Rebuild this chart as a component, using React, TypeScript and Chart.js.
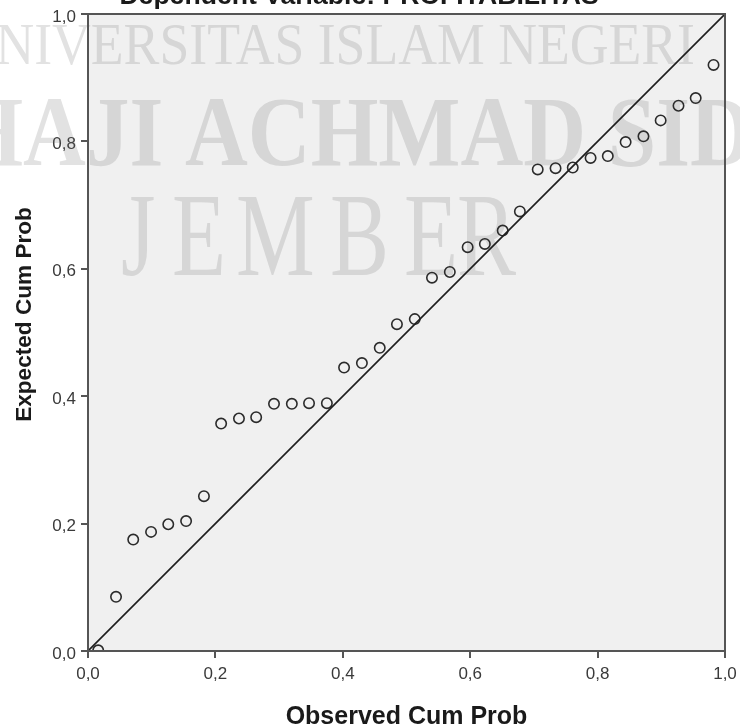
import React, { useEffect, useRef } from "react";
import { Chart, registerables } from "chart.js";

Chart.register(...registerables);

// ---- data ----
const observedCumProb = [
  0.016, 0.044, 0.071, 0.099, 0.126, 0.154, 0.182, 0.209, 0.237, 0.264, 0.292, 0.320,
  0.347, 0.375, 0.402, 0.430, 0.458, 0.485, 0.513, 0.540, 0.568, 0.596, 0.623, 0.651,
  0.678, 0.706, 0.734, 0.761, 0.789, 0.816, 0.844, 0.872, 0.899, 0.927, 0.954, 0.982,
];
const expectedCumProb = [
  0.001, 0.085, 0.175, 0.187, 0.199, 0.204, 0.243, 0.357, 0.365, 0.367, 0.388, 0.388,
  0.389, 0.389, 0.445, 0.452, 0.476, 0.513, 0.521, 0.586, 0.595, 0.634, 0.639, 0.660,
  0.690, 0.756, 0.758, 0.759, 0.774, 0.777, 0.799, 0.808, 0.833, 0.856, 0.868, 0.920,
];
const diagonalX = [0, 1];
const diagonalY = [0, 1];
const axisMin = 0;
const axisMax = 1;
const axisStep = 0.2;

const chartTitle = "Dependent Variable: PROFITABILITAS";
const xAxisTitle = "Observed Cum Prob";
const yAxisTitle = "Expected Cum Prob";
const watermarkLine1 = "UNIVERSITAS ISLAM NEGERI";
const watermarkLine2 = "HAJI ACHMAD SIDDIQ";
const watermarkLine3 = ["J", "E", "M", "B", "E", "R"];

const fmt = (v: number) => Number(v).toFixed(1).replace(".", ",");

export default function App() {
  const ref = useRef<HTMLCanvasElement | null>(null);

  useEffect(() => {
    if (!ref.current) return;

    const decor = {
      id: "decor",
      beforeDraw(chart: any) {
        const { ctx, chartArea: a } = chart;
        ctx.save();
        ctx.fillStyle = "#ffffff";
        ctx.fillRect(0, 0, chart.width, chart.height);
        ctx.fillStyle = "#f0f0f0";
        ctx.fillRect(a.left, a.top, a.right - a.left, a.bottom - a.top);
        ctx.restore();
      },
      beforeDatasetsDraw(chart: any) {
        const { ctx } = chart;
        ctx.save();
        ctx.fillStyle = "rgba(110,110,110,0.2)";
        ctx.textBaseline = "alphabetic";
        // line 1
        ctx.save();
        ctx.font = "59px 'Liberation Serif', 'Times New Roman', serif";
        ctx.translate(695, 64);
        ctx.scale(0.91, 1);
        ctx.textAlign = "right";
        ctx.fillText(watermarkLine1, 0, 0);
        ctx.restore();
        // line 2
        ctx.save();
        ctx.font = "bold 100px 'Liberation Serif', 'Times New Roman', serif";
        const pre = ctx.measureText("HAJI ").width;
        ctx.translate(185 - pre * 0.87, 165);
        ctx.scale(0.87, 1);
        ctx.textAlign = "left";
        ctx.fillText(watermarkLine2, 0, 0);
        ctx.restore();
        // line 3
        const xs = [121, 172, 236, 330, 404, 457];
        ctx.font = "118px 'Liberation Serif', 'Times New Roman', serif";
        ctx.textAlign = "left";
        watermarkLine3.forEach((ch, i) => {
          ctx.save();
          ctx.translate(xs[i], 275);
          ctx.scale(0.75, 1);
          ctx.fillText(ch, 0, 0);
          ctx.restore();
        });
        ctx.restore();
      },
      afterDatasetsDraw(chart: any) {
        const { ctx, chartArea: a } = chart;
        ctx.save();
        ctx.strokeStyle = "#555555";
        ctx.lineWidth = 2;
        ctx.strokeRect(a.left, a.top, a.right - a.left, a.bottom - a.top);
        ctx.restore();
      },
      afterDraw(chart: any) {
        const { ctx } = chart;
        ctx.save();
        ctx.fillStyle = "#1a1a1a";
        ctx.textBaseline = "alphabetic";
        ctx.textAlign = "center";
        ctx.font = "bold 26.6px 'Liberation Sans', Arial, sans-serif";
        ctx.fillText(chartTitle, 359, 4);
        ctx.font = "bold 25px 'Liberation Sans', Arial, sans-serif";
        ctx.fillText(xAxisTitle, 406.5, 724);
        ctx.save();
        ctx.translate(31, 314.5);
        ctx.rotate(-Math.PI / 2);
        ctx.font = "bold 22.6px 'Liberation Sans', Arial, sans-serif";
        ctx.fillText(yAxisTitle, 0, 0);
        ctx.restore();
        ctx.restore();
      },
    };

    const fixAxis = (size: number, horizontal: boolean) => (scale: any) => {
      if (horizontal) scale.height = size;
      else scale.width = size;
      scale.paddingLeft = 0;
      scale.paddingRight = 0;
      scale.paddingTop = 0;
      scale.paddingBottom = 0;
    };

    const chart = new Chart(ref.current, {
      type: "scatter",
      data: {
        datasets: [
          {
            type: "line",
            data: diagonalX.map((x, i) => ({ x, y: diagonalY[i] })),
            borderColor: "#1e1e1e",
            borderWidth: 1.6,
            pointRadius: 0,
            fill: false,
          } as any,
          {
            data: observedCumProb.map((x, i) => ({ x, y: expectedCumProb[i] })),
            pointStyle: "circle",
            pointRadius: 5.2,
            pointBorderWidth: 1.6,
            borderColor: "#2b2b2b",
            backgroundColor: "rgba(0,0,0,0)",
            clip: 0,
          } as any,
        ],
      },
      options: {
        responsive: false,
        animation: false,
        devicePixelRatio: 1,
        layout: { padding: { top: 14, right: 15, left: 0, bottom: 0 } },
        plugins: {
          legend: { display: false },
          title: { display: false },
          tooltip: { enabled: false },
        },
        scales: {
          x: {
            type: "linear",
            min: axisMin,
            max: axisMax,
            afterFit: fixAxis(76, true),
            border: { display: false },
            grid: {
              drawOnChartArea: false,
              drawTicks: true,
              tickLength: 7,
              color: "#555555",
              lineWidth: 2,
            },
            ticks: {
              stepSize: axisStep,
              padding: 6,
              color: "#3a3a3a",
              font: { family: "'Liberation Sans', Arial, sans-serif", size: 17 },
              callback: (v: any) => fmt(v),
              maxRotation: 0,
            },
          },
          y: {
            type: "linear",
            min: axisMin,
            max: axisMax,
            afterFit: fixAxis(88, false),
            border: { display: false },
            grid: {
              drawOnChartArea: false,
              drawTicks: true,
              tickLength: 7,
              color: "#555555",
              lineWidth: 2,
            },
            ticks: {
              stepSize: axisStep,
              padding: 5,
              labelOffset: 3,
              color: "#3a3a3a",
              font: { family: "'Liberation Sans', Arial, sans-serif", size: 17 },
              callback: (v: any) => fmt(v),
            },
          },
        },
      },
      plugins: [decor],
    });

    return () => chart.destroy();
  }, []);

  return (
    <div style={{ position: "fixed", left: 0, top: 0, width: 740, height: 727, background: "#fff" }}>
      <canvas ref={ref} width={740} height={727} style={{ display: "block" }} />
    </div>
  );
}
